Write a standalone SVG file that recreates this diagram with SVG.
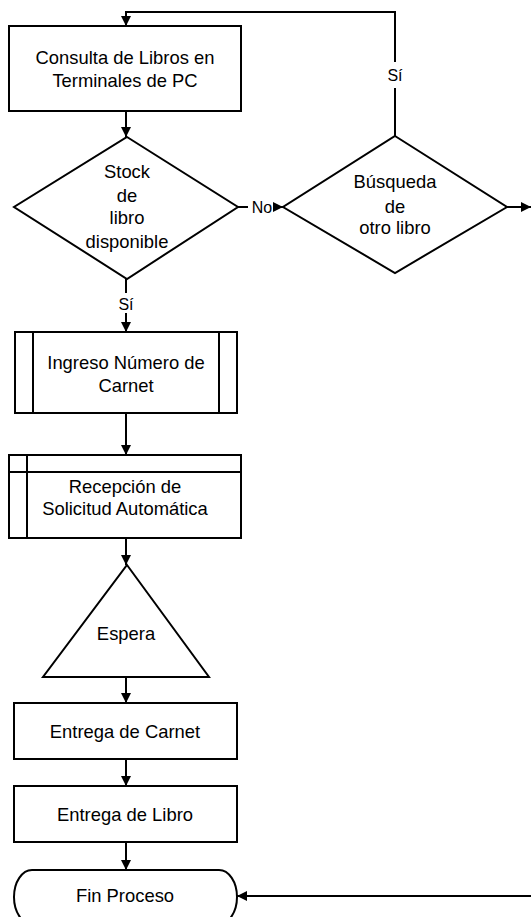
<svg xmlns="http://www.w3.org/2000/svg" width="531" height="917" viewBox="0 0 531 917">
<defs>
<marker id="ah" viewBox="0 0 10 10" refX="10" refY="5" markerWidth="5" markerHeight="5" orient="auto" markerUnits="strokeWidth">
<path d="M0,0 L10,5 L0,10 z" fill="#000"/>
</marker>
<style>
.s{fill:#fff;stroke:#000;stroke-width:2}
.l{fill:none;stroke:#000;stroke-width:2}
.c{fill:none;stroke:#000;stroke-width:2;marker-end:url(#ah)}
text{font-family:"Liberation Sans",Arial,sans-serif;font-size:18.4px;fill:#000;text-anchor:middle}
.lb{font-size:16px}
</style>
</defs>
<rect width="531" height="917" fill="#fff"/>
<g id="connectors">
<path class="l" d="M395,136 V88"/>
<path class="c" d="M395,62 V12 H126 V26"/>
<path class="c" d="M126,111 V137"/>
<path class="l" d="M238,207 H248"/>
<path class="c" d="M276,207 H283"/>
<path class="l" d="M126,279 V293"/>
<path class="c" d="M126,313 V332"/>
<path class="c" d="M126,413 V455"/>
<path class="c" d="M126,538 V565"/>
<path class="c" d="M126,677 V703"/>
<path class="c" d="M126,759 V786"/>
<path class="c" d="M126,842 V870"/>
<path class="c" d="M507,207 H531"/>
<path class="c" d="M531,896 H237"/>
<text class="lb" x="395" y="81">Sí</text>
<text class="lb" x="262" y="213">No</text>
<text class="lb" x="126" y="310">Sí</text>
</g>
<g id="n1">
<rect class="s" x="9" y="26" width="232" height="85"/>
<text x="125" y="64">Consulta de Libros en</text>
<text x="125" y="87">Terminales de PC</text>
</g>
<g id="n2">
<polygon class="s" points="127,137 238,207 127,279 14,207"/>
<text x="127" y="178">Stock</text>
<text x="127" y="202">de</text>
<text x="127" y="224">libro</text>
<text x="127" y="248">disponible</text>
</g>
<g id="n3">
<polygon class="s" points="395,136 507,207 395,273 283,207"/>
<text x="395" y="188">Búsqueda</text>
<text x="395" y="213">de</text>
<text x="395" y="234">otro libro</text>
</g>
<g id="n4">
<rect class="s" x="15" y="332" width="222" height="81"/>
<path class="l" d="M33,332 V413 M219,332 V413"/>
<text x="126" y="369">Ingreso Número de</text>
<text x="126" y="392">Carnet</text>
</g>
<g id="n5">
<rect class="s" x="9" y="455" width="232" height="83"/>
<path class="l" d="M9,472 H241 M27,455 V538"/>
<text x="125" y="493">Recepción de</text>
<text x="125" y="515">Solicitud Automática</text>
</g>
<g id="n6">
<polygon class="s" points="127,565 209,677 43,677"/>
<text x="126" y="640">Espera</text>
</g>
<g id="n7">
<rect class="s" x="14" y="703" width="223" height="56"/>
<text x="125" y="738">Entrega de Carnet</text>
</g>
<g id="n8">
<rect class="s" x="14" y="786" width="223" height="56"/>
<text x="125" y="821">Entrega de Libro</text>
</g>
<g id="n9">
<path class="s" d="M32,870 H219 A18,27 0 0 1 219,924 H32 A18,27 0 0 1 32,870 Z"/>
<text x="125" y="902">Fin Proceso</text>
</g>
</svg>
